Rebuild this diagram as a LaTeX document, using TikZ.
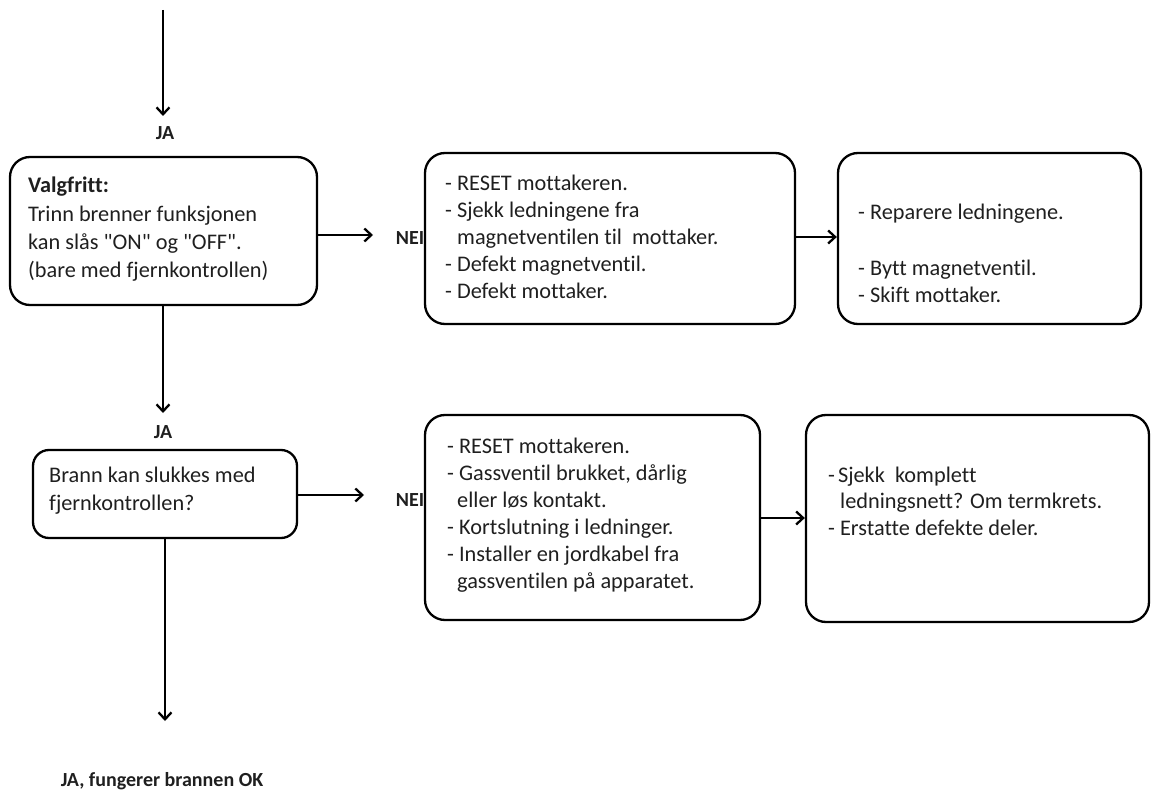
\documentclass[tikz,border=0pt]{standalone}
\usepackage{fontspec}
\setmainfont{Carlito}[Ligatures=NoCommon]
\usetikzlibrary{arrows.meta}
\newcommand{\qq}{\textquotedbl}
\begin{document}
\begin{tikzpicture}[x=1pt,y=-1pt,
  box/.style={draw, line width=2.3pt, rounded corners=20pt, inner sep=0pt},
  txt/.style={anchor=base west, inner sep=0pt, align=left, text=black!88, font=\fontsize{22.3}{27}\selectfont},
  lbl/.style={font=\fontsize{20}{22}\selectfont\bfseries, inner sep=0pt, text=black!88},
  arr/.style={line width=2.3pt, -{Straight Barb[length=7pt,width=13pt,line width=2.3pt]}},
]
\useasboundingbox (0,0) rectangle (1151,794);
% boxes
\node[box, minimum width=307pt, minimum height=148pt] (b1) at (163.5,231) {};
\node[box, minimum width=370pt, minimum height=171pt] (b2) at (610,238.5) {};
\node[box, minimum width=303pt, minimum height=171pt] (b3) at (989.5,238.5) {};
\node[box, minimum width=264pt, minimum height=88pt, rounded corners=16pt] (b4) at (165,494) {};
\node[box, minimum width=335pt, minimum height=205pt] (b5) at (592.5,517.5) {};
\node[box, minimum width=343pt, minimum height=207pt] (b6) at (977.5,518.5) {};
% texts (anchored at the baseline of their last line)
\node[txt, font=\fontsize{22.3}{28.3}\selectfont] (t1) at (28,277.9) {\textbf{Valgfritt:}\\Trinn brenner funksjonen\\kan slås \qq ON\qq\ og \qq OFF\qq .\\(bare med fjernkontrollen)};
\node[txt, font=\fontsize{22.3}{26.8}\selectfont] (t2) at (445,298.2) {- RESET\ mottakeren.\\- Sjekk ledningene fra\\\hspace*{12pt}magnetventilen til\ \ mottaker.\\- Defekt\ magnetventil.\\- Defekt mottaker.};
\node[txt] (t3) at (858,302) {- Reparere ledningene.\\[29pt]- Bytt\ magnetventil.\\- Skift mottaker.};
\node[txt, font=\fontsize{22.3}{27.7}\selectfont] (t4) at (49,510.4) {Brann kan slukkes med\\fjernkontrollen?};
\node[txt] (t5) at (447,588) {- RESET\ mottakeren.\\- Gassventil brukket,\ dårlig\\\hspace*{10pt}eller løs kontakt.\\- Kortslutning i\ ledninger.\\- Installer en jordkabel\ fra\\\hspace*{10pt}gassventilen på apparatet.};
\node[txt, font=\fontsize{22.3}{26.7}\selectfont] (t6) at (828,535.4) {-\hspace{3pt}Sjekk\ \ komplett\\\hspace*{12pt}ledningsnett? Om\ termkrets.\\- Erstatte defekte\ deler.};
% labels
\node[lbl] (ja1) at (165,133) {JA};
\node[lbl] (nei1) at (410,238) {NEI};
\node[lbl] (ja2) at (163,432) {JA};
\node[lbl] (nei2) at (410,500) {NEI};
\node[lbl] (ok) at (162,781) {JA, fungerer brannen OK};
% coordinates
\coordinate (s0) at (163,10);
\coordinate (e0) at (163,116);
\coordinate (a1) at (373,235);
\coordinate (a2) at (838,237);
\coordinate (e2) at (163,413);
\coordinate (a4) at (364,495);
\coordinate (a5) at (806,518);
\coordinate (e5) at (165,721);
% connectors
\draw[arr] (s0) -- (e0);
\draw[arr] (b1.east |- a1) -- (a1);
\draw[arr] (b2.east |- a2) -- (b3.west |- a2);
\draw[arr] (e2 |- b1.south) -- (e2);
\draw[arr] (b4.east |- a4) -- (a4);
\draw[arr] (b5.east |- a5) -- (b6.west |- a5);
\draw[arr] (e5 |- b4.south) -- (e5);
\end{tikzpicture}
\end{document}
